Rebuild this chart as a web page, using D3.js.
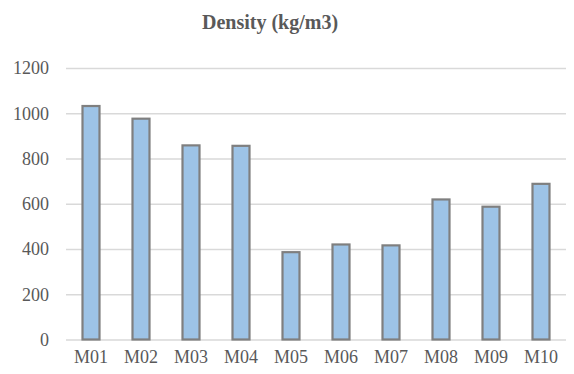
<!DOCTYPE html>
<html><head><meta charset="utf-8">
<script src="https://cdn.jsdelivr.net/npm/d3@7"></script>
</head><body style="margin:0;font-family:'Liberation Serif',serif">
<svg id="c" width="574" height="374" style="font-family:'Liberation Serif',serif"></svg>
<script>
const categories = ["M01","M02","M03","M04","M05","M06","M07","M08","M09","M10"];
const densityValues = [1032, 976, 858, 856, 386, 420, 416, 619, 587, 688];
const yTicks = [0, 200, 400, 600, 800, 1000, 1200];
const chartTitle = "Density (kg/m3)";

const svg = d3.select("#c");
const mLeft = 66, mRight = 566, mTop = 68, mBottom = 339.5;
const xScale = d3.scaleBand().domain(categories).range([mLeft, mRight]).paddingInner(0.66).paddingOuter(0.33);
const yScale = d3.scaleLinear().domain([0, 1200]).range([mBottom, mTop]);

svg.append("text").attr("x", 270).attr("y", 29).attr("text-anchor", "middle")
  .style("font-family", "\"Liberation Serif\"").style("font-size", "20px").style("font-weight", "700")
  .style("fill", "#595959").text(chartTitle);

const yAxis = svg.append("g").attr("transform", `translate(${mLeft},0)`)
  .call(d3.axisLeft(yScale).tickValues(yTicks).tickSize(-(mRight-mLeft)).tickPadding(17).tickFormat(d3.format("d")))
  .attr("font-family", "Liberation Serif").attr("font-size", 18);
yAxis.select(".domain").remove();
yAxis.selectAll(".tick line").attr("stroke", "#d9d9d9").attr("stroke-width", 1.5);
yAxis.selectAll(".tick text").style("font-family", "\"Liberation Serif\"").style("font-size", "18px").style("fill", "#595959");

svg.append("g").selectAll("rect").data(categories).join("rect")
  .attr("x", d => xScale(d)).attr("width", xScale.bandwidth())
  .attr("y", (d,i) => yScale(densityValues[i])).attr("height", (d,i) => yScale(0) - yScale(densityValues[i]))
  .attr("fill", "#9dc3e6").attr("stroke", "#7f7f7f").attr("stroke-width", 2.2);

const xAxis = svg.append("g").attr("transform", `translate(0,${mBottom})`)
  .call(d3.axisBottom(xScale).tickSize(0).tickPadding(11))
  .attr("font-family", "Liberation Serif").attr("font-size", 18);
xAxis.select(".domain").remove();
xAxis.selectAll(".tick text").style("font-family", "\"Liberation Serif\"").style("font-size", "18px").style("fill", "#595959");
</script>
</body></html>
